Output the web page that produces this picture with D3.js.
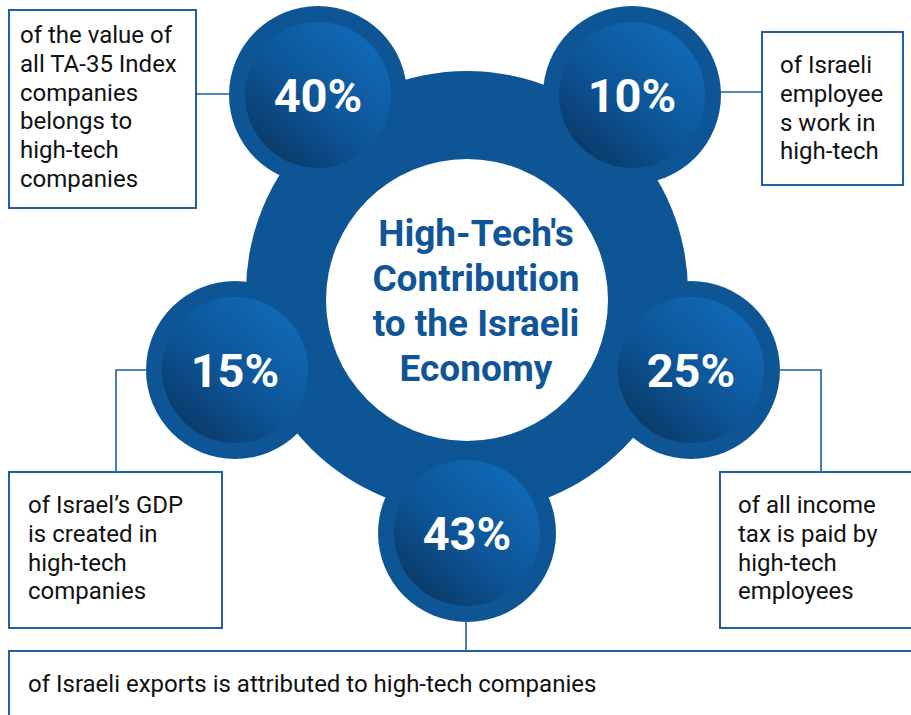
<!DOCTYPE html>
<html>
<head>
<meta charset="utf-8">
<script src="https://cdn.jsdelivr.net/npm/d3@7"></script>
<style>
  html, body { margin: 0; padding: 0; background: #fff; }
  svg { display: block; }
</style>
</head>
<body>
<svg id="chart" width="911" height="715"></svg>
<script>
// ---- data ----
const title = ["High-Tech's", "Contribution", "to the Israeli", "Economy"];
const values = ["40%", "10%", "15%", "25%", "43%"];
const descriptions = [
  ["of the value of", "all TA-35 Index", "companies", "belongs to", "high-tech", "companies"],
  ["of Israeli", "employee", "s work in", "high-tech"],
  ["of Israel\u2019s GDP", "is created in", "high-tech", "companies"],
  ["of all income", "tax is paid by", "high-tech", "employees"],
  ["of Israeli exports is attributed to high-tech companies"]
];

// ---- layout (not data) ----
const centers = [[318, 95], [632, 95], [235, 370], [691, 370], [467, 533]];
const boxes = [
  {x: 9, y: 10, w: 187, h: 198, tx: 20, ty: 43},
  {x: 762, y: 32, w: 141, h: 153, tx: 780, ty: 73},
  {x: 9, y: 472, w: 213, h: 156, tx: 28, ty: 513},
  {x: 720, y: 472, w: 200, h: 156, tx: 738, ty: 513},
  {x: 9, y: 651, w: 920, h: 80, tx: 28, ty: 692}
];
const connectors = [
  [[196, 94], [232, 94]],
  [[720, 92], [762, 92]],
  [[148, 370], [116, 370], [116, 472]],
  [[778, 370], [821, 370], [821, 472]],
  [[466, 620], [466, 651]]
];

const RING = "#0e5596";
const svg = d3.select("#chart");
const defs = svg.append("defs");
const grad = defs.append("linearGradient").attr("id", "g")
  .attr("x1", 0.85).attr("y1", 0.1).attr("x2", 0.15).attr("y2", 0.9);
grad.append("stop").attr("offset", 0).attr("stop-color", "#1069b6");
grad.append("stop").attr("offset", 0.55).attr("stop-color", "#0d5597");
grad.append("stop").attr("offset", 1).attr("stop-color", "#0a3b69");

// big hub
svg.append("circle").attr("cx", 467).attr("cy", 292).attr("r", 221).attr("fill", RING);

const idx = d3.range(values.length);
// outer rings
svg.selectAll("circle.ring").data(idx).join("circle").attr("class", "ring")
  .attr("cx", i => centers[i][0]).attr("cy", i => centers[i][1]).attr("r", 89).attr("fill", RING);
// inner gradient circles
svg.selectAll("circle.inner").data(idx).join("circle").attr("class", "inner")
  .attr("cx", i => centers[i][0]).attr("cy", i => centers[i][1]).attr("r", 73).attr("fill", "url(#g)");

// white centre
svg.append("circle").attr("cx", 467).attr("cy", 300).attr("r", 141).attr("fill", "#fff");

// title
svg.append("g").selectAll("text").data(title).join("text")
  .attr("x", 476).attr("y", (d, i) => 246 + i * 45)
  .attr("text-anchor", "middle")
  .attr("font-family", "Roboto").attr("font-weight", "bold").attr("font-size", 37)
  .attr("fill", "#0f5597").text(d => d);

// values
svg.selectAll("text.val").data(idx).join("text").attr("class", "val")
  .attr("x", i => centers[i][0]).attr("y", i => centers[i][1] + 17)
  .attr("text-anchor", "middle")
  .attr("font-family", "Roboto").attr("font-weight", "bold").attr("font-size", 47)
  .attr("fill", "#fff").text(i => values[i]);

// connectors
const line = d3.line();
svg.selectAll("path.conn").data(connectors).join("path").attr("class", "conn")
  .attr("d", d => line(d)).attr("fill", "none").attr("stroke", "#1d5c9e").attr("stroke-width", 1.6);

// boxes
svg.selectAll("rect.box").data(boxes).join("rect").attr("class", "box")
  .attr("x", d => d.x).attr("y", d => d.y).attr("width", d => d.w).attr("height", d => d.h)
  .attr("fill", "none").attr("stroke", "#1f5fa3").attr("stroke-width", 2);

// description text
idx.forEach(i => {
  const b = boxes[i];
  svg.append("g").selectAll("text").data(descriptions[i]).join("text")
    .attr("x", b.tx).attr("y", (d, j) => b.ty + j * 28.8)
    .attr("font-family", "Roboto").attr("font-size", 24).attr("fill", "#111")
    .text(d => d);
});
</script>
</body>
</html>
